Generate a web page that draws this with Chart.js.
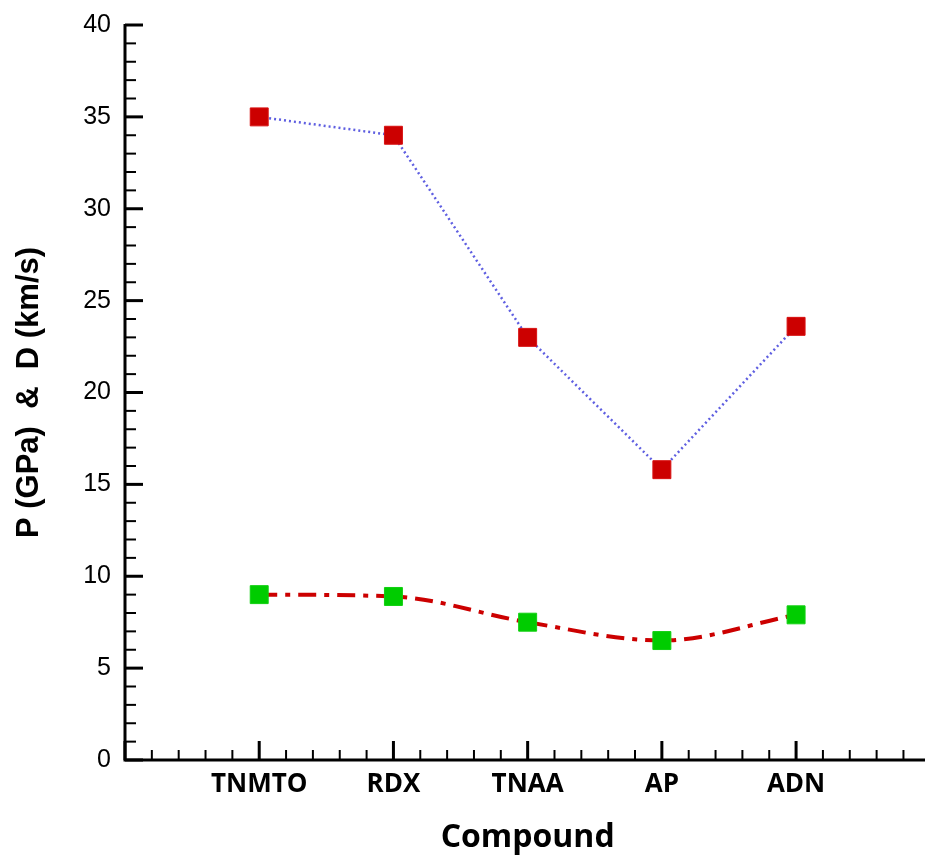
<!DOCTYPE html>
<html>
<head>
<meta charset="utf-8">
<script src="https://cdn.jsdelivr.net/npm/chart.js@4.4.1/dist/chart.umd.min.js"></script>
<style>
  html, body { margin: 0; padding: 0; background: #fff; overflow: hidden; }
  #wrap { width: 925px; height: 857px; overflow: hidden; }
</style>
</head>
<body>
<div id="wrap"><canvas id="c" width="944" height="857"></canvas></div>
<script>
// Compounds along the x axis (placed at 1..5 on a 0..6 axis)
const compounds = ['TNMTO', 'RDX', 'TNAA', 'AP', 'ADN'];
// Detonation pressure P (GPa)
const pressureGPa = [35.0, 34.0, 23.0, 15.8, 23.6];
// Detonation velocity D (km/s)
const velocityKms = [9.0, 8.9, 7.5, 6.5, 7.9];
// Axis ranges
const yMin = 0, yMax = 40, yStep = 5;
const xMin = 0, xMax = 6;

const toPoints = vals => vals.map((v, i) => ({ x: i + 1, y: v }));

// Draws the axis lines with inward major and minor tick marks
const axisFrame = {
  id: 'axisFrame',
  beforeDatasetsDraw(chart) {
    const { ctx, chartArea: a, scales: { x, y } } = chart;
    ctx.save();
    ctx.strokeStyle = '#000';
    ctx.lineCap = 'butt';
    // y ticks: minor every 1, major every 5
    for (let v = yMin; v <= yMax; v++) {
      const py = y.getPixelForValue(v);
      const major = v % yStep === 0;
      ctx.lineWidth = major ? 3 : 2;
      ctx.beginPath();
      ctx.moveTo(a.left, py);
      ctx.lineTo(a.left + (major ? 18 : 11), py);
      ctx.stroke();
    }
    // x ticks: minor every 0.2, major at each compound
    for (let k = xMin * 5; k <= xMax * 5; k++) {
      const px = x.getPixelForValue(k / 5);
      const major = k % 5 === 0;
      ctx.lineWidth = major ? 3 : 2;
      ctx.beginPath();
      ctx.moveTo(px, a.bottom);
      ctx.lineTo(px, a.bottom - (major ? 19 : 10));
      ctx.stroke();
    }
    // axis lines
    ctx.lineWidth = 3;
    ctx.beginPath();
    ctx.moveTo(a.left, a.top - 1);
    ctx.lineTo(a.left, a.bottom);
    ctx.lineTo(a.right, a.bottom);
    ctx.stroke();
    ctx.restore();
  }
};

new Chart(document.getElementById('c'), {
  type: 'line',
  data: {
    datasets: [
      {
        label: 'P (GPa)',
        data: toPoints(pressureGPa),
        borderColor: 'rgb(95,95,225)',
        borderWidth: 2.5,
        borderDash: [2, 3],
        tension: 0,
        pointStyle: 'rect',
        pointRadius: 12.7,
        pointBackgroundColor: '#cc0000',
        pointBorderColor: '#d81010',
        pointBorderWidth: 1
      },
      {
        label: 'D (km/s)',
        data: toPoints(velocityKms),
        borderColor: '#cc0000',
        borderWidth: 4,
        borderDash: [18, 8, 5, 8],
        borderCapStyle: 'butt',
        cubicInterpolationMode: 'monotone',
        pointStyle: 'rect',
        pointRadius: 12.7,
        pointBackgroundColor: '#00cc00',
        pointBorderColor: '#10d010',
        pointBorderWidth: 1
      }
    ]
  },
  options: {
    responsive: false,
    animation: false,
    layout: { padding: { top: 25, right: 0, bottom: 0, left: 0 } },
    plugins: { legend: { display: false }, tooltip: { enabled: false } },
    scales: {
      x: {
        type: 'linear',
        min: xMin,
        max: xMax,
        grid: { display: false, drawTicks: false },
        border: { display: false },
        ticks: {
          stepSize: 1,
          autoSkip: false,
          maxRotation: 0,
          padding: 9,
          color: '#000',
          font: { family: 'Open Sans', size: 26, weight: 'bold' },
          callback: v => compounds[v - 1] || ''
        },
        title: {
          display: true,
          text: 'Compound',
          color: '#000',
          font: { family: 'Open Sans', size: 32, weight: 'bold' },
          padding: { top: 0, bottom: 0 }
        },
        afterFit: s => { s.height = 97; s.paddingLeft = 0; s.paddingRight = 0; }
      },
      y: {
        min: yMin,
        max: yMax,
        grid: { display: false, drawTicks: false },
        border: { display: false },
        ticks: {
          stepSize: yStep,
          padding: 14,
          color: '#000',
          font: { family: 'Liberation Sans', size: 25 }
        },
        title: {
          display: true,
          text: 'P (GPa)  &  D (km/s)',
          color: '#000',
          font: { family: 'Liberation Sans', size: 31, weight: 'bold' },
          padding: { top: 11, bottom: 0 }
        },
        afterFit: s => { s.width = 125; s.paddingTop = 0; s.paddingBottom = 0; }
      }
    }
  },
  plugins: [axisFrame]
});
</script>
</body>
</html>
